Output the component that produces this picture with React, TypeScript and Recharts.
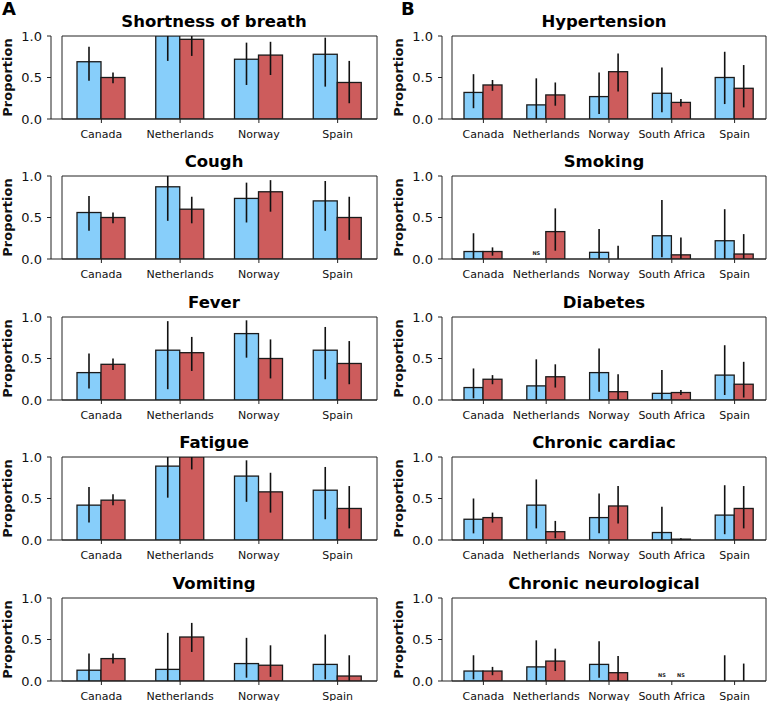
import { BarChart, Bar, XAxis, YAxis, ErrorBar, ReferenceArea } from "recharts"

const countriesA = ["Canada", "Netherlands", "Norway", "Spain"]
const countriesB = ["Canada", "Netherlands", "Norway", "South Africa", "Spain"]
const yTicks = [0, 0.5, 1]

// column A
const breathBlue = [0.69, 1.0, 0.72, 0.78]
const breathBlueCI = [[0.46, 0.87], [0.7, 1.0], [0.41, 0.92], [0.39, 0.98]]
const breathRed = [0.5, 0.96, 0.77, 0.44]
const breathRedCI = [[0.43, 0.56], [0.76, 1.0], [0.53, 0.93], [0.19, 0.7]]

const coughBlue = [0.56, 0.87, 0.73, 0.7]
const coughBlueCI = [[0.34, 0.76], [0.46, 1.0], [0.44, 0.92], [0.34, 0.94]]
const coughRed = [0.5, 0.6, 0.81, 0.5]
const coughRedCI = [[0.43, 0.56], [0.43, 0.75], [0.57, 0.95], [0.23, 0.75]]

const feverBlue = [0.33, 0.6, 0.8, 0.6]
const feverBlueCI = [[0.14, 0.56], [0.13, 0.95], [0.51, 0.96], [0.25, 0.88]]
const feverRed = [0.43, 0.57, 0.5, 0.44]
const feverRedCI = [[0.36, 0.5], [0.35, 0.76], [0.26, 0.73], [0.19, 0.71]]

const fatigueBlue = [0.42, 0.89, 0.77, 0.6]
const fatigueBlueCI = [[0.21, 0.64], [0.51, 1.0], [0.46, 0.96], [0.25, 0.88]]
const fatigueRed = [0.48, 1.0, 0.58, 0.38]
const fatigueRedCI = [[0.42, 0.55], [0.85, 1.0], [0.33, 0.81], [0.14, 0.65]]

const vomitBlue = [0.13, 0.14, 0.21, 0.2]
const vomitBlueCI = [[0, 0.33], [0, 0.58], [0.04, 0.52], [0.02, 0.56]]
const vomitRed = [0.27, 0.53, 0.19, 0.06]
const vomitRedCI = [[0.21, 0.33], [0.35, 0.7], [0.05, 0.43], [0, 0.31]]

// column B (null = NS)
const hyperBlue = [0.32, 0.17, 0.27, 0.31, 0.5]
const hyperBlueCI = [[0.13, 0.54], [0, 0.49], [0.06, 0.56], [0.08, 0.62], [0.18, 0.81]]
const hyperRed = [0.41, 0.29, 0.57, 0.2, 0.37]
const hyperRedCI = [[0.34, 0.47], [0.16, 0.44], [0.33, 0.79], [0.15, 0.24], [0.14, 0.65]]

const smokeBlue = [0.09, null, 0.08, 0.28, 0.22]
const smokeBlueCI = [[0, 0.31], null, [0, 0.36], [0.02, 0.71], [0, 0.6]]
const smokeRed = [0.09, 0.33, 0, 0.05, 0.06]
const smokeRedCI = [[0.04, 0.14], [0.1, 0.61], [0, 0.16], [0, 0.26], [0, 0.3]]

const diabBlue = [0.15, 0.17, 0.33, 0.08, 0.3]
const diabBlueCI = [[0.02, 0.38], [0, 0.49], [0.1, 0.62], [0, 0.36], [0.06, 0.66]]
const diabRed = [0.25, 0.28, 0.1, 0.09, 0.19]
const diabRedCI = [[0.19, 0.3], [0.15, 0.43], [0, 0.31], [0.06, 0.12], [0.03, 0.46]]

const cardBlue = [0.25, 0.42, 0.27, 0.09, 0.3]
const cardBlueCI = [[0.08, 0.5], [0.14, 0.73], [0.08, 0.56], [0, 0.4], [0.07, 0.66]]
const cardRed = [0.27, 0.1, 0.41, 0.01, 0.38]
const cardRedCI = [[0.21, 0.33], [0.02, 0.23], [0.2, 0.65], [0, 0.02], [0.14, 0.65]]

const neuroBlue = [0.12, 0.17, 0.2, null, 0]
const neuroBlueCI = [[0.02, 0.31], [0, 0.49], [0.04, 0.48], null, [0, 0.31]]
const neuroRed = [0.12, 0.24, 0.1, null, 0]
const neuroRedCI = [[0.07, 0.17], [0.12, 0.39], [0, 0.3], null, [0, 0.21]]

const panelsA = [
  { title: "Shortness of breath", blue: breathBlue, blueCI: breathBlueCI, red: breathRed, redCI: breathRedCI },
  { title: "Cough", blue: coughBlue, blueCI: coughBlueCI, red: coughRed, redCI: coughRedCI },
  { title: "Fever", blue: feverBlue, blueCI: feverBlueCI, red: feverRed, redCI: feverRedCI },
  { title: "Fatigue", blue: fatigueBlue, blueCI: fatigueBlueCI, red: fatigueRed, redCI: fatigueRedCI },
  { title: "Vomiting", blue: vomitBlue, blueCI: vomitBlueCI, red: vomitRed, redCI: vomitRedCI },
]
const panelsB = [
  { title: "Hypertension", blue: hyperBlue, blueCI: hyperBlueCI, red: hyperRed, redCI: hyperRedCI },
  { title: "Smoking", blue: smokeBlue, blueCI: smokeBlueCI, red: smokeRed, redCI: smokeRedCI },
  { title: "Diabetes", blue: diabBlue, blueCI: diabBlueCI, red: diabRed, redCI: diabRedCI },
  { title: "Chronic cardiac", blue: cardBlue, blueCI: cardBlueCI, red: cardRed, redCI: cardRedCI },
  { title: "Chronic neurological", blue: neuroBlue, blueCI: neuroBlueCI, red: neuroRed, redCI: neuroRedCI },
]

const rowTops = [36, 176, 317, 457, 598]
const axisHeights = [32, 32, 32, 32, 21]
const plotH = 83
const padTop = 12
const font = "'DejaVu Sans', sans-serif"
const ink = "#222"

const cols = [
  { left: 0, plotLeft: 51, plotWidth: 326, barSize: 24, padLeft: 11 },
  { left: 385, plotLeft: 57, plotWidth: 324, barSize: 19, padLeft: 10 },
]

function makeBarShape(nsKey: string) {
  return (p: any) => {
    if (p.payload[nsKey]) {
      return (
        <text x={p.x + p.width / 2} y={p.y + p.height - 4} textAnchor="middle"
          fontSize={5} fontWeight="bold" fontFamily={font} fill="#222">NS</text>
      )
    }
    return (
      <rect x={p.x} y={p.y} width={p.width} height={Math.max(p.height, 0)}
        fill={p.fill} stroke="#1a1a1a" strokeWidth={1.3} />
    )
  }
}

function err(v: number | null, ci: number[] | null) {
  if (v == null || ci == null) return null
  return [v - ci[0], ci[1] - v]
}

function Panel({ panel, countries, colIdx, row }: any) {
  const c = cols[colIdx]
  const top = rowTops[row]
  const axisH = axisHeights[row]
  const data = countries.map((name: string, i: number) => ({
    name,
    blue: panel.blue[i] ?? 0,
    blueNS: panel.blue[i] == null,
    blueErr: err(panel.blue[i], panel.blueCI[i]),
    red: panel.red[i] ?? 0,
    redNS: panel.red[i] == null,
    redErr: err(panel.red[i], panel.redCI[i]),
  }))
  const chartH = padTop + plotH + axisH
  return (
    <>
      <div style={{
        position: "absolute", left: c.left + c.plotLeft, top: top - 24, width: c.plotWidth,
        textAlign: "center", fontFamily: font, fontWeight: "bold", fontSize: 16.5, lineHeight: "20px",
      }}>{panel.title}</div>
      <div style={{ position: "absolute", left: c.left, top: top - padTop }}>
        <BarChart width={385} height={chartH} data={data} barGap={0} barSize={c.barSize}
          style={{ overflow: "visible" }}
          margin={{ top: padTop, right: 385 - c.plotLeft - c.plotWidth, bottom: 0, left: 0 }}>
          <XAxis dataKey="name" height={axisH} interval={0} padding={{ left: c.padLeft, right: 0 }}
            tickSize={4} tickMargin={7} axisLine={{ stroke: ink }} tickLine={{ stroke: ink }}
            tick={{ fontSize: 11, fill: "#111", fontFamily: font }} />
          <YAxis width={c.plotLeft} domain={[0, 1]} ticks={yTicks} interval={0} allowDataOverflow
            tickFormatter={(v: number) => v.toFixed(1)} tickSize={4} tickMargin={5}
            axisLine={{ stroke: ink }} tickLine={{ stroke: ink }}
            tick={{ fontSize: 13, fill: "#111", fontFamily: font }}
            label={{
              value: "Proportion", angle: -90, position: "insideLeft", offset: c.plotLeft - 44,
              style: { textAnchor: "middle", fontSize: 13, fontWeight: "bold", fontFamily: font, fill: "#111" },
            }} />
          <Bar dataKey="blue" fill="#87CEFA" isAnimationActive={false} shape={makeBarShape("blueNS")}>
            <ErrorBar dataKey="blueErr" direction="y" width={0} stroke="#111" strokeWidth={1.6} />
          </Bar>
          <Bar dataKey="red" fill="#CD5C5C" isAnimationActive={false} shape={makeBarShape("redNS")}>
            <ErrorBar dataKey="redErr" direction="y" width={0} stroke="#111" strokeWidth={1.6} />
          </Bar>
          <ReferenceArea y1={0} y2={1} fill="none" fillOpacity={0} stroke={ink} strokeWidth={1} />
        </BarChart>
      </div>
    </>
  )
}

export default function App() {
  return (
    <div style={{ position: "absolute", left: 0, top: 0, width: 770, height: 701, background: "#fff", overflow: "hidden" }}>
      <div style={{ position: "absolute", left: 2, top: 1, fontFamily: font, fontWeight: "bold", fontSize: 18, lineHeight: "16px" }}>A</div>
      <div style={{ position: "absolute", left: 401, top: 1, fontFamily: font, fontWeight: "bold", fontSize: 18, lineHeight: "16px" }}>B</div>
      {panelsA.map((p, i) => (
        <Panel key={p.title} panel={p} countries={countriesA} colIdx={0} row={i} />
      ))}
      {panelsB.map((p, i) => (
        <Panel key={p.title} panel={p} countries={countriesB} colIdx={1} row={i} />
      ))}
    </div>
  )
}
